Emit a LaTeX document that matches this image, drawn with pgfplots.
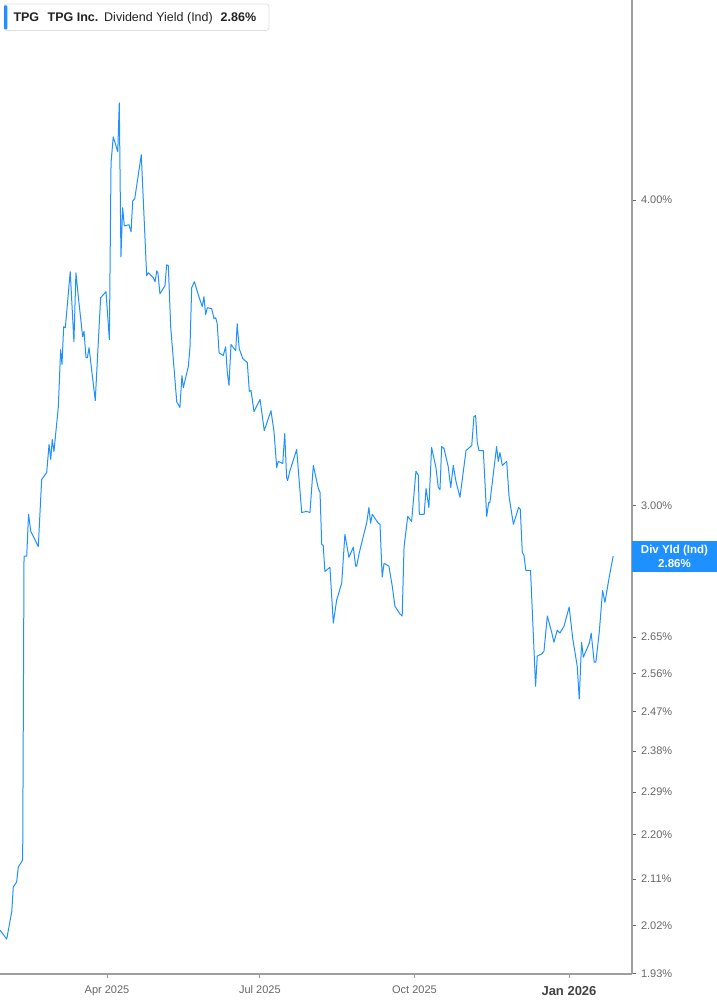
\documentclass[border=0pt]{standalone}
\usepackage{pgfplots}
\pgfplotsset{compat=1.18}
\usepackage{pgfplotstable}
\usepackage{fontspec}
\setmainfont{Liberation Sans}

\definecolor{lineblue}{RGB}{30,144,255}
\definecolor{axisgray}{RGB}{158,158,158}
\definecolor{labelgray}{RGB}{102,102,102}
\definecolor{darktext}{RGB}{34,34,34}

% day = days since 1 Jan 2025, yield in %
\pgfplotstableread{
day   yld
26.3  2.011
30.3  1.994
33.3  2.046
34.2  2.094
36.2  2.104
37.2  2.134
39.8  2.148
40.6  2.860
42.2  2.860
43.3  2.975
44.6  2.928
49.1  2.886
51.1  3.074
54.1  3.095
55.5  3.177
56.5  3.133
57.4  3.192
58.4  3.156
61.0  3.290
62.4  3.474
63.2  3.426
64.2  3.550
65.2  3.547
68.1  3.739
70.3  3.500
71.5  3.735
73.1  3.642
75.5  3.517
76.3  3.534
77.5  3.448
78.3  3.448
79.3  3.481
83.0  3.311
86.2  3.648
89.4  3.669
91.4  3.507
92.4  4.142
93.7  4.245
96.4  4.186
97.3  4.383
98.3  3.792
99.3  3.971
100.3 3.904
103.1 3.908
104.3 3.882
105.3 3.997
106.5 4.004
110.4 4.174
113.6 3.725
114.6 3.735
117.5 3.718
118.6 3.704
119.6 3.742
120.3 3.735
121.5 3.662
124.5 3.690
125.5 3.763
126.5 3.760
127.9 3.550
131.5 3.308
133.4 3.290
134.6 3.390
135.4 3.352
138.4 3.419
139.4 3.484
140.4 3.683
142.0 3.704
144.9 3.648
146.7 3.618
147.7 3.652
148.7 3.591
149.7 3.614
152.3 3.611
153.7 3.577
154.7 3.580
155.6 3.560
156.7 3.464
159.2 3.455
160.6 3.484
161.6 3.400
162.6 3.359
163.8 3.491
166.6 3.471
167.5 3.560
168.7 3.477
170.8 3.445
173.5 3.432
174.7 3.340
175.7 3.343
177.5 3.277
181.1 3.315
183.6 3.219
187.6 3.280
189.4 3.216
191.0 3.109
191.9 3.127
194.6 3.121
195.8 3.210
196.9 3.080
197.5 3.071
198.9 3.100
202.9 3.162
205.9 2.980
208.8 2.983
210.8 2.980
212.8 3.115
215.8 3.048
216.8 3.037
217.8 2.892
218.7 2.889
219.7 2.819
222.7 2.830
224.7 2.685
226.7 2.744
229.7 2.788
231.6 2.919
234.0 2.857
236.6 2.884
238.0 2.833
238.6 2.833
240.2 2.870
244.6 2.952
245.9 2.994
246.9 2.950
247.9 2.975
251.5 2.950
252.5 2.947
253.8 2.804
254.9 2.841
257.8 2.833
259.8 2.780
261.4 2.728
264.4 2.708
265.7 2.703
266.8 2.884
269.0 2.969
271.3 2.955
273.9 3.098
275.3 3.086
275.9 2.975
278.8 2.975
279.9 3.048
281.6 2.994
283.2 3.168
285.8 3.109
287.2 3.051
288.2 3.045
289.2 3.171
290.6 3.165
293.1 3.112
294.6 3.051
296.1 3.115
297.7 3.069
300.1 3.023
303.7 3.159
307.1 3.174
308.4 3.262
309.4 3.265
310.4 3.183
311.4 3.159
314.0 3.159
316.0 2.969
317.2 3.008
317.9 3.008
321.9 3.171
322.9 3.127
323.9 3.153
325.3 3.115
327.9 3.127
329.3 3.026
331.9 2.947
335.0 2.994
336.0 2.989
337.2 2.870
338.2 2.862
339.3 2.822
342.1 2.822
345.1 2.530
346.1 2.603
348.7 2.608
350.1 2.615
352.1 2.703
354.7 2.662
356.0 2.637
358.0 2.667
359.6 2.660
362.0 2.677
365.1 2.726
367.2 2.647
369.9 2.578
371.1 2.500
372.5 2.637
373.5 2.600
377.1 2.635
378.2 2.660
380.0 2.588
381.0 2.588
383.0 2.662
385.0 2.769
386.4 2.738
389.0 2.806
391.3 2.860
}\yieldtable

\begin{document}
\begin{tikzpicture}
\useasboundingbox (0pt,0pt) rectangle (717pt,1005pt);
\begin{axis}[
    at={(0pt,31pt)}, anchor=south west,
    width=632pt, height=974pt, scale only axis,
    xmin=26.3, xmax=402.5,
    ymode=log, ymin=1.9295, ymax=4.829,
    axis x line*=bottom, axis y line*=right,
    axis line style={axisgray, line width=1.3pt, -},
    xtick={90,181,273,365},
    xticklabels={Apr 2025,Jul 2025,Oct 2025,{\fontsize{13}{13}\selectfont\bfseries\color{darktext!85}Jan 2026}},
    xticklabel style={font=\fontsize{11}{11}\selectfont, text=labelgray, yshift=-4.5pt},
    ytick={1.93,2.02,2.11,2.20,2.29,2.38,2.47,2.56,2.65,3.00,4.00},
    yticklabels={1.93\%,2.02\%,2.11\%,2.20\%,2.29\%,2.38\%,2.47\%,2.56\%,2.65\%,3.00\%,4.00\%},
    yticklabel style={font=\fontsize{11}{11}\selectfont, text=labelgray, anchor=west, xshift=1.5pt},
    tick align=outside,
    x tick style={axisgray, line width=1pt},
    y tick style={black!60, line width=0.8pt},
    major tick length=4pt,
    minor tick num=0,
]
\addplot[lineblue, line width=1pt, line join=round] table[x=day, y=yld] {\yieldtable};
\end{axis}

% legend box, top left
\draw[draw=black!12, fill=white, rounded corners=3pt, line width=0.8pt] (4pt,974.5pt) rectangle (269pt,1001pt);
\fill[lineblue, rounded corners=1pt] (4pt,975.5pt) rectangle (7.3pt,999.5pt);
\begin{scope}[every node/.style={anchor=base west, inner sep=0, text=darktext}]
\node[font=\fontsize{12.5}{12.5}\selectfont\bfseries] at (13.3pt,983.5pt) {TPG};
\node[font=\fontsize{12.5}{12.5}\selectfont\bfseries] at (47.5pt,983.5pt) {TPG Inc.};
\node[font=\fontsize{12.5}{12.5}\selectfont] at (104pt,983.5pt) {Dividend Yield (Ind)};
\node[font=\fontsize{12.5}{12.5}\selectfont\bfseries] at (220.5pt,983.5pt) {2.86\%};
\end{scope}

% current value box on the right axis
\fill[lineblue] (632pt,433pt) rectangle (717pt,464pt);
\node[text=white, font=\fontsize{11.5}{11.5}\selectfont\bfseries, inner sep=0] at (674.5pt,454pt) {Div Yld (Ind)};
\node[text=white, font=\fontsize{11.5}{11.5}\selectfont\bfseries, inner sep=0] at (674.5pt,441.5pt) {2.86\%};
\end{tikzpicture}
\end{document}
